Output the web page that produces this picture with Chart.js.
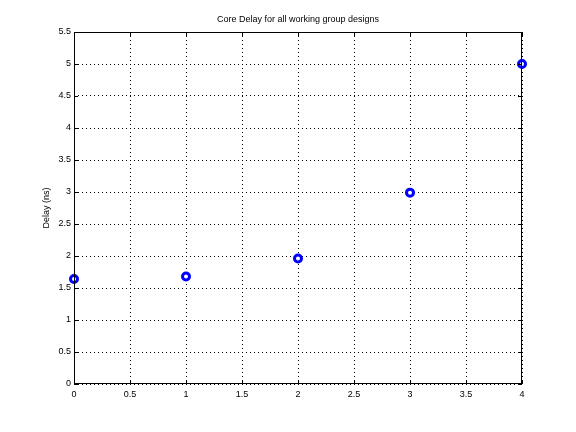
<!DOCTYPE html>
<html>
<head>
<meta charset="utf-8">
<script src="https://cdn.jsdelivr.net/npm/chart.js@4/dist/chart.umd.min.js"></script>
<style>
  html, body { margin: 0; padding: 0; background: #fff; }
  #wrap { width: 576px; height: 432px; }
</style>
</head>
<body>
<div id="wrap"><canvas id="mychart" width="576" height="432"></canvas></div>
<script>
// designs on x, core delay in ns on y
const designs = [0, 1, 2, 3, 4];
const delays = [1.64, 1.68, 1.96, 2.99, 5.0];
const xTicks = [0, 0.5, 1, 1.5, 2, 2.5, 3, 3.5, 4];
const yTicks = [0, 0.5, 1, 1.5, 2, 2.5, 3, 3.5, 4, 4.5, 5, 5.5];
const titleText = 'Core Delay for all working group designs';

const FONT = { family: 'Liberation Sans, Arial, sans-serif', size: 9 };

// matlab style frame: solid box, inward tick marks, title centred over the axes
const boxPlugin = {
    id: 'box',
    afterDraw(chart) {
        const c = chart.ctx;
        const a = chart.chartArea;
        const xs = chart.scales.x;
        const ys = chart.scales.y;
        c.save();
        c.strokeStyle = '#000';
        c.lineWidth = 1;
        c.setLineDash([]);
        c.strokeRect(a.left + 0.5, a.top + 0.5, a.right - a.left - 1, a.bottom - a.top - 1);
        c.beginPath();
        xTicks.forEach(v => {
            const px = Math.round(xs.getPixelForValue(v)) + 0.5;
            c.moveTo(px, a.bottom); c.lineTo(px, a.bottom - 4);
            c.moveTo(px, a.top); c.lineTo(px, a.top + 4);
        });
        yTicks.forEach(v => {
            const py = Math.round(ys.getPixelForValue(v)) + 0.5;
            c.moveTo(a.left, py); c.lineTo(a.left + 4, py);
            c.moveTo(a.right, py); c.lineTo(a.right - 4, py);
        });
        c.stroke();
        c.fillStyle = '#000';
        c.font = FONT.size + 'px ' + FONT.family;
        c.textAlign = 'center';
        c.textBaseline = 'middle';
        c.fillText(titleText, (a.left + a.right) / 2, 20);
        c.restore();
    }
};

const ctx = document.getElementById('mychart').getContext('2d');
const myChart = new Chart(ctx, {
    type: 'scatter',
    data: {
        datasets: [{
            label: 'Core Delay',
            data: designs.map((d, i) => ({ x: d, y: delays[i] })),
            pointStyle: 'circle',
            pointRadius: 3.5,
            pointBorderWidth: 3,
            pointBorderColor: '#0000ff',
            pointBackgroundColor: '#ffffff',
            clip: false
        }]
    },
    plugins: [boxPlugin],
    options: {
        responsive: false,
        animation: false,
        layout: { padding: { left: 0, right: 54, top: 32, bottom: 0 } },
        plugins: {
            legend: { display: false },
            tooltip: { enabled: false },
            title: { display: false }
        },
        scales: {
            x: {
                type: 'linear',
                min: 0,
                max: 4,
                afterBuildTicks: s => { s.ticks = xTicks.map(v => ({ value: v })); },
                afterFit: s => { s.height = 48; },
                ticks: { color: '#000', font: FONT, padding: 5, maxRotation: 0, callback: v => String(v) },
                grid: { color: '#000', lineWidth: 1, tickLength: 0, drawTicks: false },
                border: { display: false, dash: [1, 3] }
            },
            y: {
                type: 'linear',
                min: 0,
                max: 5.5,
                afterBuildTicks: s => { s.ticks = yTicks.map(v => ({ value: v })); },
                afterFit: s => { s.width = 74; },
                ticks: { color: '#000', font: FONT, padding: 3, callback: v => String(v) },
                grid: { color: '#000', lineWidth: 1, tickLength: 0, drawTicks: false },
                border: { display: false, dash: [1, 3] },
                title: {
                    display: true,
                    text: 'Delay (ns)',
                    color: '#000',
                    font: FONT,
                    padding: { top: 41, bottom: 0 }
                }
            }
        }
    }
});
</script>
</body>
</html>
